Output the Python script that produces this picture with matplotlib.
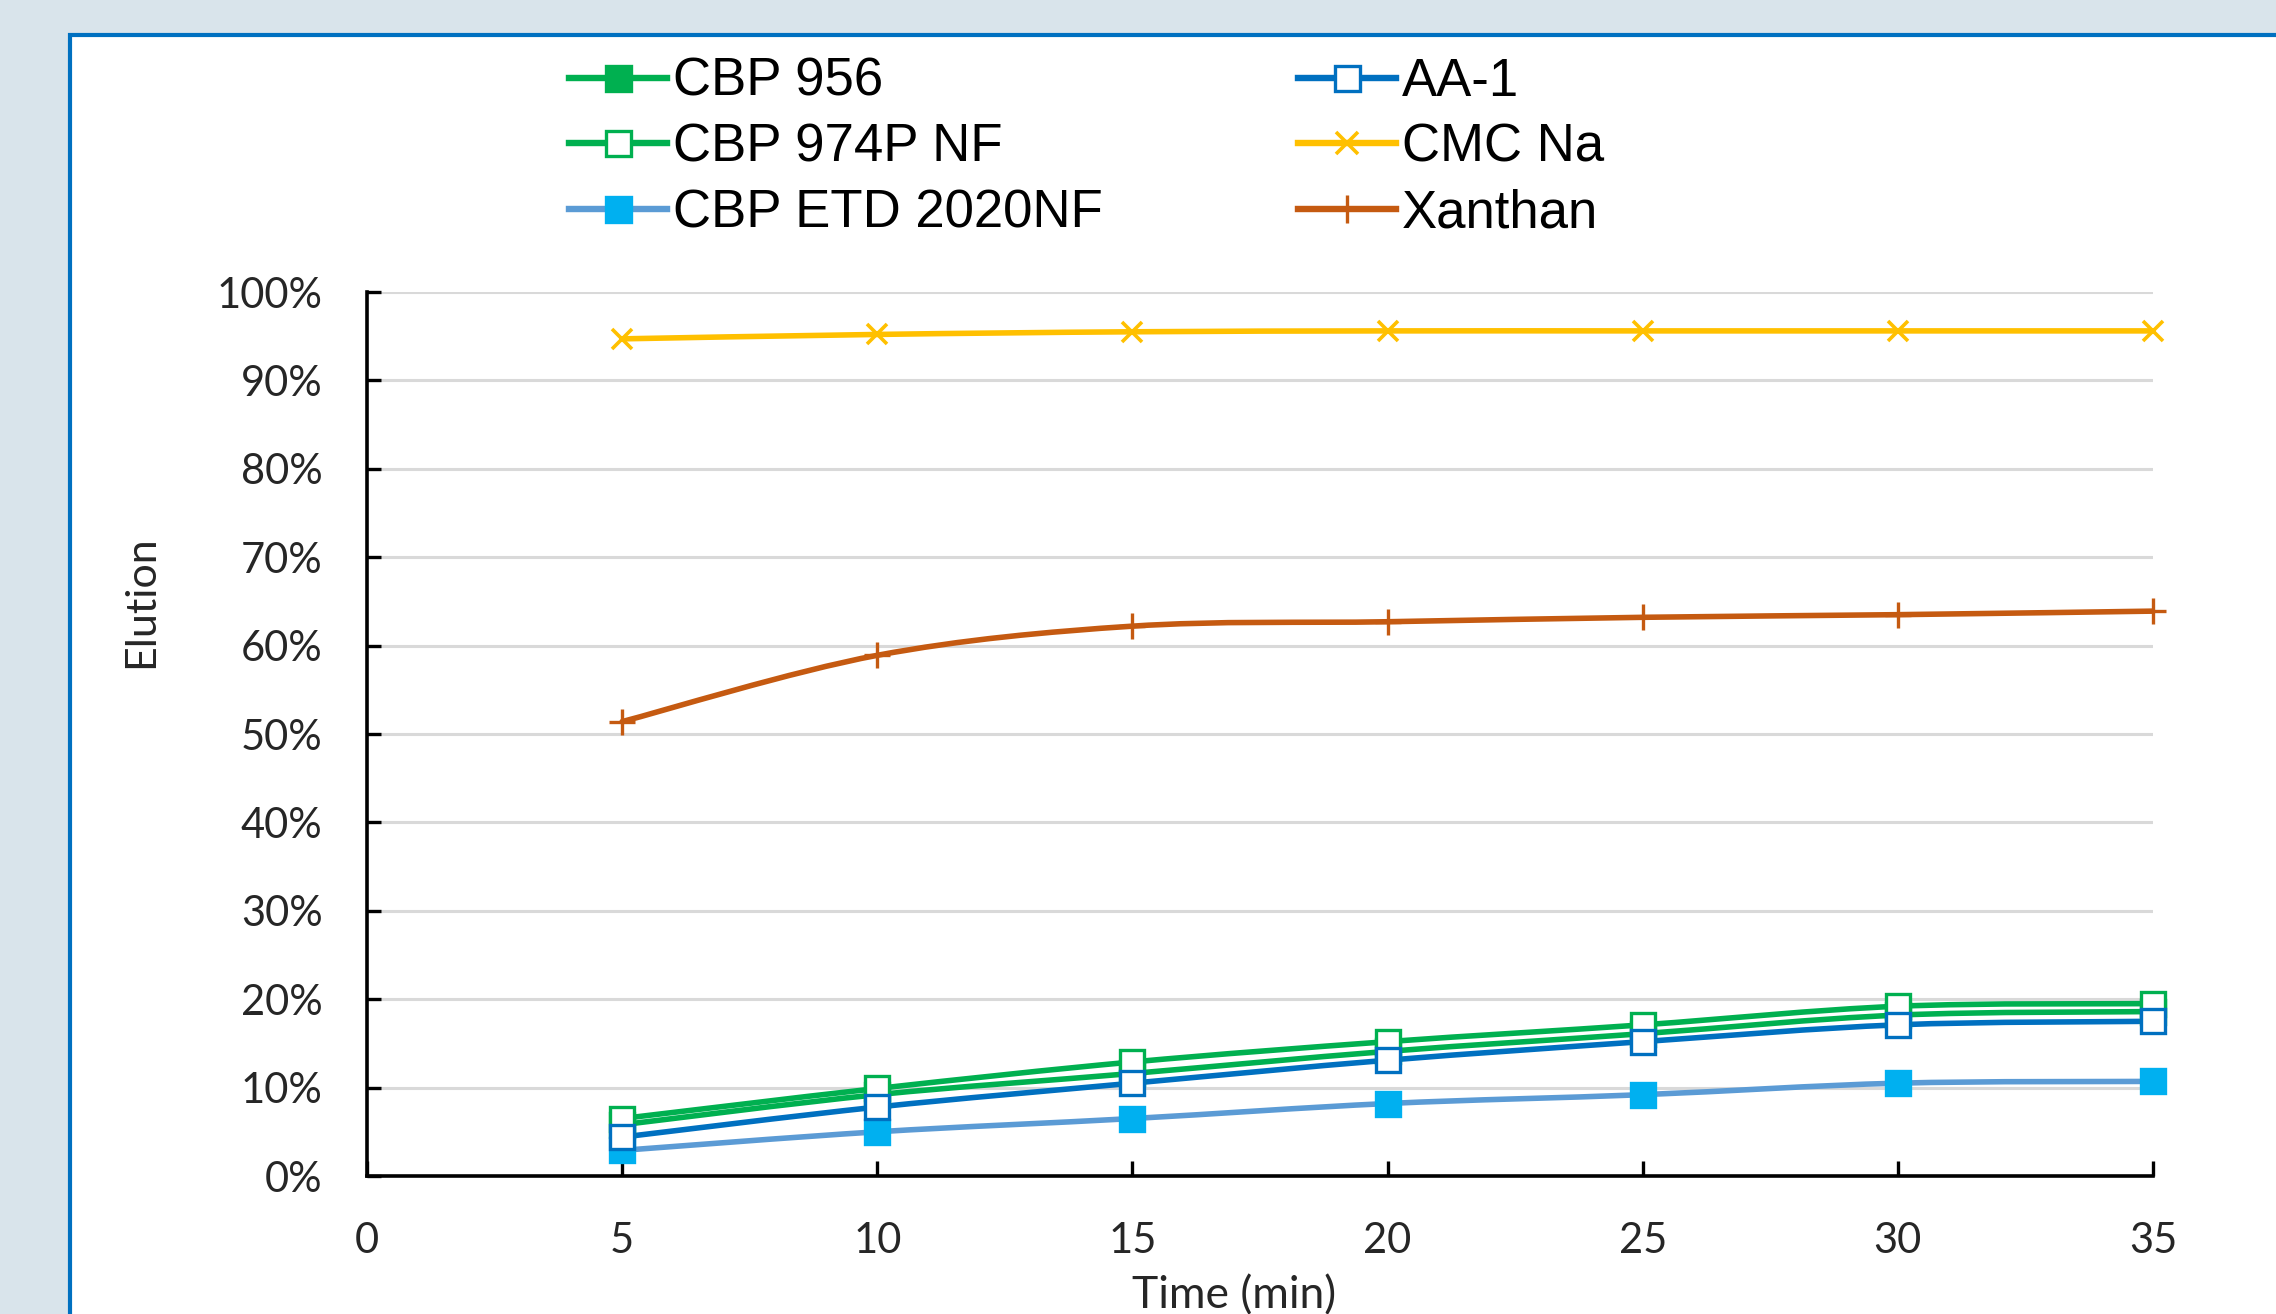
import numpy as np
import matplotlib
matplotlib.use('Agg')
import matplotlib.pyplot as plt
from matplotlib.path import Path
from matplotlib.patches import PathPatch, Rectangle
from matplotlib.lines import Line2D
from matplotlib.ticker import PercentFormatter

# data
time_min = [5, 10, 15, 20, 25, 30, 35]
cbp_956 = [5.8, 9.2, 11.6, 14.1, 16.1, 18.2, 18.6]
cbp_974p_nf = [6.5, 9.9, 12.9, 15.2, 17.1, 19.2, 19.5]
cbp_etd_2020nf = [2.9, 5.0, 6.5, 8.2, 9.2, 10.5, 10.7]
aa_1 = [4.4, 7.8, 10.5, 13.1, 15.2, 17.1, 17.5]
cmc_na = [94.7, 95.2, 95.5, 95.6, 95.6, 95.6, 95.6]
xanthan = [51.4, 58.9, 62.2, 62.7, 63.2, 63.5, 63.9]

labels = ["CBP 956", "CBP 974P NF", "CBP ETD 2020NF", "AA-1", "CMC Na", "Xanthan"]
series = [cbp_956, cbp_974p_nf, cbp_etd_2020nf, aa_1, cmc_na, xanthan]

# style per series: line colour, marker, marker face, marker edge
styles = [
    dict(lc="#00B050", m="s", mfc="#00B050", mec="#00B050"),
    dict(lc="#00B050", m="s", mfc="white", mec="#00B050"),
    dict(lc="#5B9BD5", m="s", mfc="#00B0F0", mec="#00B0F0"),
    dict(lc="#0070C0", m="s", mfc="white", mec="#0070C0"),
    dict(lc="#FFC000", m="x", mfc="#FFC000", mec="#FFC000"),
    dict(lc="#C55A11", m="+", mfc="#C55A11", mec="#C55A11"),
]


def smooth_path(xs, ys):
    # excel style smoothed line, bezier through the points
    pts = np.column_stack([xs, ys]).astype(float)
    n = len(pts)
    verts = [pts[0]]
    codes = [Path.MOVETO]
    for i in range(n - 1):
        p0 = pts[max(i - 1, 0)]
        p1 = pts[i]
        p2 = pts[i + 1]
        p3 = pts[min(i + 2, n - 1)]
        verts += [p1 + (p2 - p0) / 6, p2 - (p3 - p1) / 6, p2]
        codes += [Path.CURVE4] * 3
    return Path(verts, codes)


W, H = 2276, 1314
fig = plt.figure(figsize=(W / 100, H / 100), dpi=100)
fig.patch.set_facecolor("#D9E4EB")

# white panel with blue border
panel = Rectangle((70 / W, -0.1), 1.2, 1 - 35 / H + 0.1, transform=fig.transFigure,
                  facecolor="white", edgecolor="#0070C0", lw=3, zorder=-1)
fig.patches.append(panel)

ax = fig.add_axes([367 / W, 1 - 1176 / H, (2153 - 367) / W, (1176 - 292) / H])
ax.set_facecolor("none")

tick_font = "Lato"
lw = 4.0
handles = []
for lab, ys, st in zip(labels, series, styles):
    yv = np.array(ys) / 100.0
    ax.add_patch(PathPatch(smooth_path(time_min, yv), fill=False, edgecolor=st["lc"],
                           lw=lw, capstyle="round", joinstyle="round", zorder=3))
    if st["m"] == "s":
        ms, mew = 17, 2.4
    elif st["m"] == "x":
        ms, mew = 15, 2.6
    else:
        ms, mew = 19, 2.4
    ax.plot(time_min, yv, linestyle="none", marker=st["m"], ms=ms, mfc=st["mfc"],
            mec=st["mec"], mew=mew, zorder=4, clip_on=False)
    handles.append(Line2D([], [], color=st["lc"], lw=lw + 0.6, marker=st["m"], ms=ms + 1,
                          mfc=st["mfc"], mec=st["mec"], mew=mew))

ax.set_xlim(0, 35)
ax.set_ylim(0, 1.0)
ax.set_xticks([0, 5, 10, 15, 20, 25, 30, 35])
ax.set_yticks(np.arange(0, 1.01, 0.1))
ax.yaxis.set_major_formatter(PercentFormatter(1.0, decimals=0))
ax.grid(axis="y", color="#D9D9D9", lw=2.2, zorder=0)
ax.set_axisbelow(True)
for s in ["top", "right"]:
    ax.spines[s].set_visible(False)
for s in ["left", "bottom"]:
    ax.spines[s].set_color("black")
    ax.spines[s].set_linewidth(2.6)
    ax.spines[s].set_zorder(5)
ax.tick_params(axis="y", direction="in", length=10, width=2.4, pad=32,
               labelsize=30, labelcolor="#262626")
ax.tick_params(axis="x", direction="in", length=11, width=2.4, pad=33,
               labelsize=30, labelcolor="#262626")
for t in ax.get_xticklabels() + ax.get_yticklabels():
    t.set_family(tick_font)

fig.text(141 / W, 1 - 602 / H, "Elution", fontsize=31, family=tick_font, color="#262626",
         rotation=90, ha="center", va="center")
fig.text(1234 / W, 1 - 1296 / H, "Time (min)", fontsize=32, family=tick_font,
         color="#262626", ha="center", va="center")

fig.legend(handles, labels, ncol=2, loc="upper left", bbox_to_anchor=(569 / W, 1 - 57 / H),
           frameon=False, borderpad=0, borderaxespad=0, handlelength=1.85,
           handletextpad=0.12, columnspacing=3.7, labelspacing=0.3,
           prop={"family": "Liberation Sans", "size": 38})

fig.savefig("out.png", dpi=100)
